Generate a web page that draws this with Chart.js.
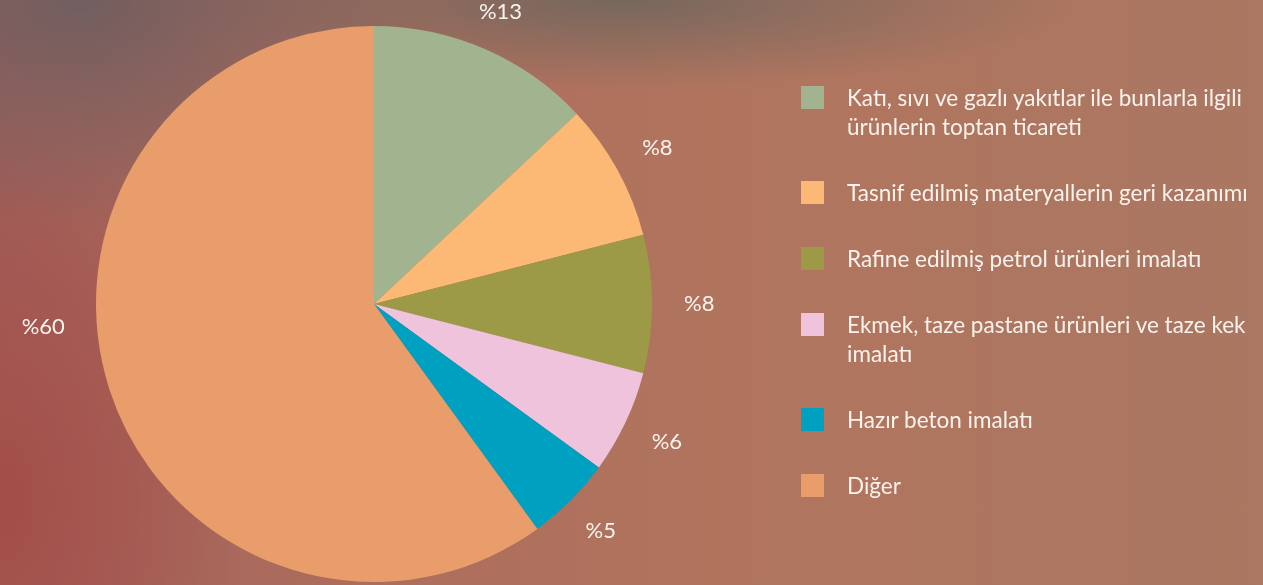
<!DOCTYPE html>
<html>
<head>
<meta charset="utf-8">
<script src="https://cdn.jsdelivr.net/npm/chart.js@4"></script>
<style>
  html, body { margin: 0; padding: 0; }
  body {
    width: 1263px; height: 585px; overflow: hidden; position: relative;
    background:
      radial-gradient(ellipse 460px 90px at 620px 0px, rgba(104,100,94,0.8), rgba(104,100,94,0) 100%),
      radial-gradient(ellipse 360px 230px at 80px 0px, rgba(108,94,96,0.9), rgba(108,94,96,0) 100%),
      radial-gradient(ellipse 240px 380px at 0px 500px, rgba(164,76,70,0.9), rgba(164,76,70,0) 100%),
      linear-gradient(to right, #a2605a 0%, #ad6e5c 30%, #b1755e 60%, #aa7762 100%);
  }
  #pie { position: absolute; left: 0; top: 0; }
  #legend {
    position: absolute; left: 801px; top: 83px;
    font-family: Lato, "Noto Sans", sans-serif; font-size: 22.5px; color: #faf2ec;
  }
  .item { display: flex; align-items: flex-start; margin-bottom: 37px; }
  .box { width: 23px; height: 23px; margin-top: 3px; flex: none; }
  .txt { margin-left: 23px; line-height: 29px; white-space: nowrap; }
</style>
</head>
<body>
<canvas id="pie" width="1263" height="585"></canvas>
<div id="legend"></div>
<script>
// sektör payları (%), saat yönünde tepeden başlayarak
var sectors = [
    ['Katı, sıvı ve gazlı yakıtlar ile bunlarla ilgili', 'ürünlerin toptan ticareti'],
    ['Tasnif edilmiş materyallerin geri kazanımı'],
    ['Rafine edilmiş petrol ürünleri imalatı'],
    ['Ekmek, taze pastane ürünleri ve taze kek', 'imalatı'],
    ['Hazır beton imalatı'],
    ['Diğer']
];
var shares = [13, 8, 8, 6, 5, 60];
var colors = ['#a1b38f', '#fbb975', '#9d9a47', '#efc3dc', '#00a0c1', '#e99d6b'];

// legend
var legendDiv = document.getElementById('legend');
sectors.forEach(function (lines, i) {
    var item = document.createElement('div');
    item.className = 'item';
    item.innerHTML = '<div class="box" style="background:' + colors[i] + '"></div>' +
        '<div class="txt">' + lines.join('<br>') + '</div>';
    legendDiv.appendChild(item);
});

// yüzde etiketleri dilimlerin dışına
var pctLabels = {
    id: 'pctLabels',
    afterDatasetsDraw: function (chart) {
        var ctx = chart.ctx;
        var meta = chart.getDatasetMeta(0);
        ctx.save();
        ctx.font = '22px "Liberation Sans Narrow", Lato, sans-serif';
        ctx.fillStyle = '#fbf3ee';
        ctx.textAlign = 'center';
        ctx.textBaseline = 'middle';
        meta.data.forEach(function (arc, i) {
            var p = arc.getProps(['x', 'y', 'startAngle', 'endAngle', 'outerRadius'], true);
            var mid = (p.startAngle + p.endAngle) / 2;
            // büyük dilimin etiketi yatay eksene yakın dursun
            if (shares[i] > 50) {
                var lim = 0.07;
                mid = Math.min(Math.max(mid, Math.PI - lim), Math.PI + lim);
            }
            var txt = '%' + shares[i];
            var hw = ctx.measureText(txt).width / 2;
            var r = p.outerRadius + 32 + hw * Math.abs(Math.cos(mid));
            ctx.fillText(txt, p.x + Math.cos(mid) * r, p.y + Math.sin(mid) * r);
        });
        ctx.restore();
    }
};

new Chart(document.getElementById('pie').getContext('2d'), {
    type: 'pie',
    data: {
        labels: sectors.map(function (l) { return l.join(' '); }),
        datasets: [{
            data: shares,
            backgroundColor: colors,
            borderWidth: 0
        }]
    },
    options: {
        responsive: false,
        animation: false,
        devicePixelRatio: 1,
        events: [],
        layout: { padding: { left: 96, right: 611, top: 26, bottom: 3 } },
        plugins: {
            legend: { display: false },
            tooltip: { enabled: false }
        }
    },
    plugins: [pctLabels]
});
</script>
</body>
</html>
